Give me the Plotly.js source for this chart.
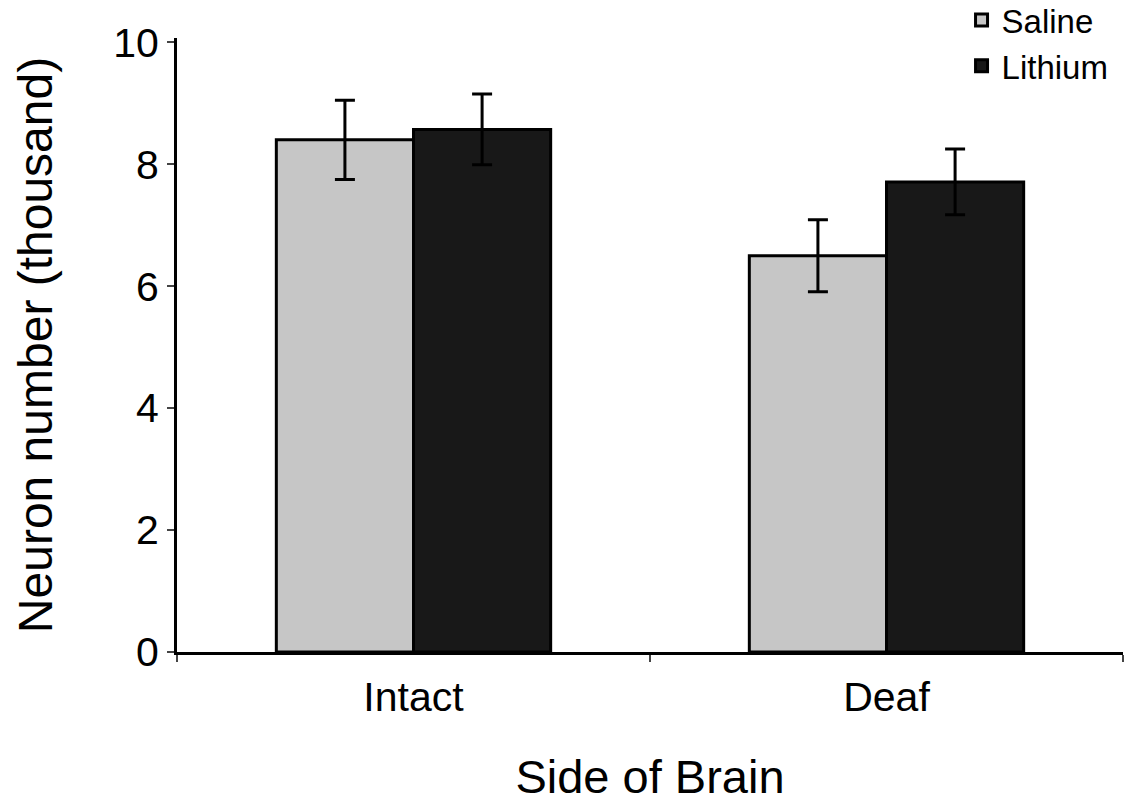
<!DOCTYPE html>
<html>
<head>
<meta charset="utf-8">
<script src="https://cdn.plot.ly/plotly-3.0.1.min.js"></script>
<style>
  html, body { margin: 0; padding: 0; background: #fff; }
  #chart { width: 1129px; height: 803px; }
</style>
</head>
<body>
<div id="chart"></div>
<script>
const categories = ["Intact", "Deaf"];
const salineValues = [8.40, 6.50];
const salineErrors = [0.65, 0.59];
const lithiumValues = [8.57, 7.71];
const lithiumErrors = [0.58, 0.54];
const seriesNames = ["Saline", "Lithium"];
const yTickValues = [0, 2, 4, 6, 8, 10];

const fontFamily = "Liberation Sans, Arial, Helvetica, sans-serif";

const traces = [
  {
    type: "bar",
    name: seriesNames[0],
    x: categories,
    y: salineValues,
    marker: { color: "#c6c6c6", line: { color: "#000", width: 3 } },
    error_y: { type: "data", array: salineErrors, visible: true, color: "#000", thickness: 3, width: 10 }
  },
  {
    type: "bar",
    name: seriesNames[1],
    x: categories,
    y: lithiumValues,
    marker: { color: "#181818", line: { color: "#000", width: 3 } },
    error_y: { type: "data", array: lithiumErrors, visible: true, color: "#000", thickness: 3, width: 10 }
  }
];

const layout = {
  width: 1129,
  height: 803,
  paper_bgcolor: "#fff",
  plot_bgcolor: "#fff",
  font: { family: fontFamily, color: "#000" },
  margin: { l: 177, r: 6, t: 38, b: 151, autoexpand: false },
  barmode: "group",
  bargap: 0.42,
  bargroupgap: 0,
  showlegend: true,
  legend: {
    x: 0.99, y: 1.075, xanchor: "right", yanchor: "top",
    font: { size: 33, family: fontFamily, color: "#000" },
    bgcolor: "rgba(0,0,0,0)",
    tracegroupgap: 0,
    itemwidth: 30
  },
  xaxis: {
    type: "category",
    range: [-0.5, 1.5],
    tickson: "boundaries",
    ticks: "outside",
    ticklen: 7,
    tickwidth: 2,
    tickcolor: "#444",
    showline: true,
    linecolor: "#000",
    linewidth: 3,
    showgrid: false,
    zeroline: false,
    ticklabelstandoff: 7,
    tickfont: { size: 41, family: fontFamily, color: "#000" },
    title: { text: "Side of Brain", font: { size: 47, family: fontFamily, color: "#000" }, standoff: 44 }
  },
  yaxis: {
    range: [0, 10.07],
    tickvals: yTickValues,
    ticktext: yTickValues.map(String),
    ticks: "outside",
    ticklen: 7,
    tickwidth: 2,
    tickcolor: "#444",
    showline: true,
    linecolor: "#000",
    linewidth: 3,
    showgrid: false,
    zeroline: false,
    tickfont: { size: 41, family: fontFamily, color: "#000" },
    title: { text: "Neuron number (thousand)", font: { size: 48, family: fontFamily, color: "#000" }, standoff: 46 }
  }
};

Plotly.newPlot("chart", traces, layout, { displayModeBar: false, staticPlot: true });
</script>
</body>
</html>
